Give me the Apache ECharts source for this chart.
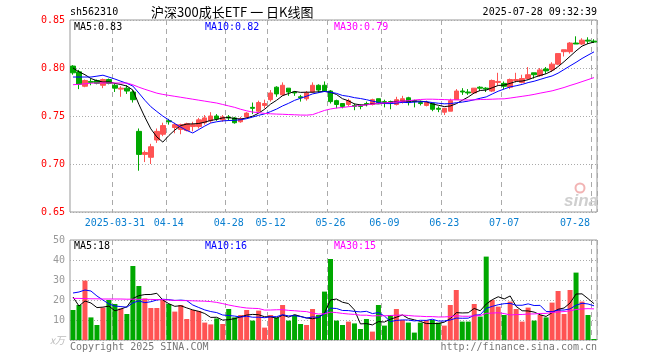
<!DOCTYPE html>
<html><head><meta charset="utf-8">
<script src="https://cdn.jsdelivr.net/npm/echarts@6/dist/echarts.min.js"></script>
<style>html,body{margin:0;padding:0;background:#fff;}#c{width:660px;height:360px;}</style>
</head><body><div id="c"></div>
<script>
const dates = ['2025-03-20','2025-03-21','2025-03-24','2025-03-25','2025-03-26','2025-03-27','2025-03-28','2025-03-31',
'2025-04-01','2025-04-02','2025-04-03','2025-04-07','2025-04-08','2025-04-09','2025-04-10','2025-04-11','2025-04-14','2025-04-15','2025-04-16','2025-04-17','2025-04-18','2025-04-21','2025-04-22','2025-04-23','2025-04-24','2025-04-25','2025-04-28','2025-04-29','2025-04-30',
'2025-05-06','2025-05-07','2025-05-08','2025-05-09','2025-05-12','2025-05-13','2025-05-14','2025-05-15','2025-05-16','2025-05-19','2025-05-20','2025-05-21','2025-05-22','2025-05-23','2025-05-26','2025-05-27','2025-05-28','2025-05-29','2025-05-30',
'2025-06-03','2025-06-04','2025-06-05','2025-06-06','2025-06-09','2025-06-10','2025-06-11','2025-06-12','2025-06-13','2025-06-16','2025-06-17','2025-06-18','2025-06-19','2025-06-20','2025-06-23','2025-06-24','2025-06-25','2025-06-26','2025-06-27','2025-06-30',
'2025-07-01','2025-07-02','2025-07-03','2025-07-04','2025-07-07','2025-07-08','2025-07-09','2025-07-10','2025-07-11','2025-07-14','2025-07-15','2025-07-16','2025-07-17','2025-07-18','2025-07-21','2025-07-22','2025-07-23','2025-07-24','2025-07-25','2025-07-28'];

const opens = [0.802,0.796,0.781,0.786,0.787,0.782,0.788,0.782,0.778,0.779,
0.775,0.734,0.710,0.707,0.725,0.731,0.745,0.738,0.736,0.735,
0.739,0.739,0.743,0.745,0.750,0.746,0.749,0.748,0.744,0.749,
0.759,0.755,0.761,0.767,0.780,0.772,0.779,0.775,0.770,0.768,
0.775,0.782,0.782,0.776,0.766,0.763,0.762,0.761,0.761,0.763,
0.762,0.768,0.765,0.765,0.762,0.765,0.769,0.766,0.764,0.761,
0.763,0.758,0.754,0.755,0.767,0.776,0.775,0.774,0.780,0.779,
0.776,0.785,0.784,0.780,0.787,0.785,0.789,0.795,0.792,0.799,
0.798,0.804,0.817,0.817,0.826,0.825,0.829,0.828];

const closes = [0.795,0.783,0.787,0.785,0.784,0.788,0.784,0.779,0.779,0.776,
0.767,0.710,0.712,0.718,0.734,0.740,0.744,0.741,0.741,0.742,
0.741,0.746,0.748,0.750,0.747,0.749,0.748,0.743,0.747,0.753,
0.758,0.764,0.763,0.774,0.773,0.782,0.775,0.774,0.769,0.774,
0.782,0.777,0.776,0.765,0.762,0.760,0.766,0.760,0.760,0.762,
0.767,0.764,0.764,0.764,0.767,0.768,0.764,0.765,0.763,0.764,
0.757,0.757,0.758,0.766,0.776,0.775,0.774,0.779,0.779,0.778,
0.787,0.786,0.781,0.788,0.788,0.789,0.793,0.793,0.798,0.797,
0.804,0.815,0.819,0.826,0.825,0.829,0.828,0.827];

const highs = [0.803,0.798,0.788,0.789,0.788,0.789,0.789,0.784,0.781,0.782,
0.777,0.737,0.714,0.721,0.737,0.743,0.747,0.743,0.742,0.743,
0.744,0.748,0.751,0.754,0.752,0.751,0.751,0.749,0.749,0.754,
0.764,0.766,0.767,0.777,0.781,0.785,0.779,0.776,0.772,0.776,
0.785,0.783,0.786,0.777,0.767,0.763,0.768,0.763,0.762,0.765,
0.768,0.768,0.767,0.766,0.770,0.771,0.770,0.767,0.766,0.766,
0.764,0.760,0.758,0.768,0.778,0.779,0.778,0.779,0.781,0.780,
0.788,0.795,0.786,0.789,0.795,0.793,0.801,0.795,0.800,0.801,
0.806,0.815,0.819,0.827,0.833,0.831,0.832,0.830];

const lows = [0.793,0.778,0.780,0.782,0.783,0.779,0.783,0.775,0.770,0.773,
0.764,0.693,0.702,0.700,0.722,0.729,0.741,0.732,0.731,0.734,
0.734,0.737,0.741,0.743,0.745,0.744,0.745,0.742,0.743,0.748,
0.752,0.754,0.758,0.765,0.770,0.771,0.771,0.771,0.765,0.766,
0.774,0.774,0.775,0.763,0.758,0.758,0.760,0.756,0.757,0.760,
0.761,0.763,0.759,0.757,0.761,0.763,0.761,0.759,0.761,0.760,
0.755,0.754,0.751,0.755,0.767,0.772,0.772,0.773,0.776,0.775,
0.775,0.782,0.778,0.778,0.785,0.784,0.788,0.789,0.791,0.794,
0.796,0.803,0.812,0.815,0.825,0.824,0.825,0.826];

const ma5 = [0.800,0.796,0.793,0.789,0.7868,0.7854,0.7856,0.7840,0.7828,0.7812,
0.7770,0.7622,0.7488,0.7366,0.7282,0.7228,0.7296,0.7354,0.7400,0.7416,
0.7418,0.7422,0.7436,0.7454,0.7464,0.7480,0.7484,0.7474,0.7468,0.7480,
0.7498,0.7530,0.7570,0.7624,0.7664,0.7712,0.7734,0.7756,0.7746,0.7748,
0.7748,0.7752,0.7756,0.7748,0.7724,0.7680,0.7658,0.7626,0.7616,0.7616,
0.7630,0.7626,0.7634,0.7642,0.7652,0.7654,0.7654,0.7656,0.7654,0.7648,
0.7626,0.7612,0.7598,0.7604,0.7628,0.7664,0.7698,0.7740,0.7766,0.7770,
0.7794,0.7818,0.7822,0.7840,0.7860,0.7864,0.7878,0.7902,0.7922,0.7940,
0.7970,0.8014,0.8066,0.8122,0.8178,0.8228,0.8254,0.8270];

const ma10 = [0.7906,0.7906,0.7906,0.7906,0.7915,0.7925,0.7905,0.7885,0.7862,0.7840,
0.7812,0.7739,0.7664,0.7597,0.7547,0.7499,0.7459,0.7421,0.7383,0.7349,
0.7323,0.7359,0.7395,0.7427,0.7440,0.7449,0.7453,0.7455,0.7461,0.7472,
0.7489,0.7507,0.7522,0.7546,0.7572,0.7605,0.7632,0.7663,0.7685,0.7706,
0.7730,0.7743,0.7756,0.7747,0.7736,0.7714,0.7705,0.7691,0.7682,0.7670,
0.7655,0.7642,0.7630,0.7629,0.7634,0.7642,0.7640,0.7645,0.7648,0.7650,
0.7640,0.7633,0.7627,0.7629,0.7638,0.7645,0.7655,0.7669,0.7685,0.7699,
0.7729,0.7758,0.7781,0.7803,0.7815,0.7829,0.7848,0.7862,0.7881,0.7900,
0.7917,0.7946,0.7984,0.8022,0.8059,0.8099,0.8134,0.8168];

const ma30 = [0.7826,0.7830,0.7835,0.7842,0.7844,0.7844,0.7844,0.7844,0.7844,0.7844,
0.7825,0.7800,0.7778,0.7758,0.7738,0.7725,0.7715,0.7705,0.7695,0.7685,
0.7675,0.7665,0.7655,0.7645,0.7635,0.7620,0.7605,0.7590,0.7570,0.7554,
0.7541,0.7535,0.7527,0.7523,0.7520,0.7518,0.7515,0.7513,0.7510,0.7509,
0.7514,0.7536,0.7558,0.7573,0.7583,0.7589,0.7597,0.7603,0.7609,0.7616,
0.7625,0.7631,0.7636,0.7641,0.7647,0.7654,0.7659,0.7666,0.7672,0.7675,
0.7675,0.7673,0.7671,0.7668,0.7669,0.7667,0.7667,0.7668,0.7672,0.7673,
0.7675,0.7678,0.7679,0.7687,0.7696,0.7705,0.7714,0.7725,0.7738,0.7750,
0.7762,0.7779,0.7797,0.7818,0.7837,0.7858,0.7879,0.7900];

const vols = [15,17.5,29.7,11.3,7.5,16.2,20,18,15.8,13,
37,27,20.8,16,16,20,18,14.2,17.5,10.5,
15,14.5,8.7,7.8,10.8,8,15.5,11.3,12.5,15,
9.7,14.7,6.2,12.5,11.3,17.5,9.7,12.5,8,7.5,
15.5,12.5,24.2,40.5,9.7,7.5,9.2,8.3,5.5,10.5,
4.2,17.5,7.2,12.5,15.5,10,8.7,3.7,8.7,10,
10,8.7,7.2,17.5,25,9.2,9.2,18,11.7,41.7,
20,16.7,12.5,19.2,15.5,9.2,16.2,9.7,12.5,11.3,
18.7,24.5,13,25,33.7,19.2,12.5,0.5];

const vma5 = [21.5,17,19.5,18.5,16.2,16.44,16.94,14.6,15.5,16.6,
20.76,22.16,22.72,22.76,23.36,19.96,18.16,16.84,17.14,16.04,
15.04,14.34,13.24,11.3,11.36,9.96,10.16,10.68,11.62,12.46,
12.8,12.64,11.62,11.62,10.88,12.44,11.44,12.7,11.8,11.04,
10.64,11.2,13.54,20.04,20.48,18.88,18.22,15.04,8.04,8.2,
7.54,9.2,8.98,10.38,11.38,12.54,10.78,10.08,9.32,8.22,
8.22,8.22,8.92,10.68,13.68,13.52,13.62,15.78,14.62,17.96,
20.12,21.62,20.52,22.02,16.78,14.62,14.52,13.96,12.62,11.78,
13.68,15.34,16.0,18.5,22.98,23.08,20.68,18.18];

const vma10 = [23.5,24,25,24.5,22,20,18,17,16.7,16.4,
18.6,19.55,18.66,19.13,19.98,20.36,20.16,19.78,19.95,19.7,
17.5,16.25,15.04,14.22,13.7,12.5,12.25,11.96,11.46,11.91,
11.38,11.4,11.15,11.62,11.67,12.62,12.04,12.16,11.71,10.96,
11.54,11.32,13.12,15.92,15.76,14.76,14.71,14.29,14.04,14.34,
13.21,13.71,12.01,9.21,9.79,10.04,9.99,9.53,9.85,9.8,
10.38,9.5,9.5,10.0,10.95,10.87,10.92,12.35,12.65,15.82,
16.82,17.62,18.15,18.32,17.37,17.37,18.07,17.24,17.32,14.28,
14.15,14.93,14.98,15.56,17.38,18.38,18.01,17.09];

const vma30 = [20.8,20.8,20.7,20.6,20.6,20.5,20.5,20.5,20.5,20.4,
20.4,20.3,20.3,20.3,20.2,20.2,20.0,19.8,19.7,19.7,
19.6,19.5,19.4,19.2,18.8,18.2,17.5,16.9,16.4,16.0,
15.83,15.73,14.95,14.99,15.12,15.16,14.82,14.63,14.37,14.19,
13.47,12.99,13.1,13.92,13.71,13.29,13.0,12.8,12.4,12.4,
12.04,12.14,12.09,12.25,12.41,12.47,12.25,11.99,11.87,11.7,
11.71,11.51,11.54,11.71,12.17,11.89,11.87,12.06,12.18,13.32,
13.47,13.61,13.22,12.51,12.7,12.76,12.99,13.04,13.27,13.3,
13.78,14.02,14.21,14.63,15.23,15.54,15.67,15.56];

const tickDates = ['2025-03-31','2025-04-14','2025-04-28','2025-05-12','2025-05-26','2025-06-09','2025-06-23','2025-07-07','2025-07-28'];
const tickLabels = ['2025-03-31','04-14','04-28','05-12','05-26','06-09','06-23','07-07','07-28'];
const priceTicks = [0.65, 0.70, 0.75, 0.80, 0.85];
const volTicks = [0, 10, 20, 30, 40, 50];

const UP = '#ff5353', DOWN = '#00a800';
const mono = "'DejaVu Sans Mono', monospace";

const candleData = dates.map((d, i) => [opens[i], closes[i], lows[i], highs[i]]);
const volData = vols.map((v, i) => ({ value: v, itemStyle: { color: closes[i] >= opens[i] ? UP : DOWN } }));

const isTick = (idx) => tickDates.indexOf(dates[idx]) >= 0;
const gridLineV = { show: true, interval: (idx) => isTick(idx), lineStyle: { color: '#aaa', type: [5, 4], width: 1 } };
const gridLineH = { show: true, lineStyle: { color: '#aaa', type: [1, 2], width: 1 } };

function txt(text, x, y, color, align, font) {
  return { type: 'text', x: x, y: y, z: 100, silent: true,
    style: { text: text, fill: color, font: font || ('10px ' + mono), textAlign: align || 'left', textVerticalAlign: 'middle' } };
}

const chart = echarts.init(document.getElementById('c'), null, { renderer: 'canvas' });
chart.setOption({
  animation: false,
  backgroundColor: '#fff',
  grid: [
    { left: 70, top: 20, width: 527, height: 192, show: true, borderColor: '#999', borderWidth: 1 },
    { left: 70, top: 240, width: 527, height: 100, show: true, borderColor: '#999', borderWidth: 1 }
  ],
  xAxis: [
    { type: 'category', gridIndex: 0, data: dates, boundaryGap: true,
      axisLine: { show: false }, axisTick: { show: false },
      axisLabel: { interval: (idx) => isTick(idx), margin: 6, color: '#0a7fd0', fontFamily: mono, fontSize: 10,
        formatter: (v) => {
          const j = tickDates.indexOf(v);
          if (j === tickDates.length - 1) return '{last|' + tickLabels[j] + '}';
          return j >= 0 ? tickLabels[j] : '';
        },
        rich: { last: { color: '#0a7fd0', fontFamily: mono, fontSize: 10, padding: [0, 38, 0, 0] } } },
      splitLine: gridLineV },
    { type: 'category', gridIndex: 1, data: dates, boundaryGap: true,
      axisLine: { show: false }, axisTick: { show: false }, axisLabel: { show: false },
      splitLine: gridLineV }
  ],
  yAxis: [
    { type: 'value', gridIndex: 0, min: priceTicks[0], max: priceTicks[priceTicks.length - 1], interval: 0.05,
      axisLine: { show: false }, axisTick: { show: false },
      axisLabel: { color: '#f00', fontFamily: mono, fontSize: 10, margin: 5, formatter: (v) => v.toFixed(2) },
      splitLine: gridLineH },
    { type: 'value', gridIndex: 1, min: volTicks[0], max: volTicks[volTicks.length - 1], interval: 10,
      axisLine: { show: false }, axisTick: { show: false },
      axisLabel: { color: '#999', fontFamily: mono, fontSize: 10, margin: 5,
        formatter: (v) => v === 0 ? '{u|x万}' : String(v),
        rich: { u: { color: '#bbb', fontSize: 10, fontStyle: 'italic', fontFamily: "'Noto Sans CJK SC', sans-serif" } } },
      splitLine: gridLineH }
  ],
  series: [
    { type: 'candlestick', xAxisIndex: 0, yAxisIndex: 0, data: candleData, barWidth: 5,
      itemStyle: { color: UP, color0: DOWN, borderColor: UP, borderColor0: DOWN, borderWidth: 1 } },
    { type: 'line', xAxisIndex: 0, yAxisIndex: 0, data: ma5, showSymbol: false, lineStyle: { color: '#000', width: 1 }, z: 5 },
    { type: 'line', xAxisIndex: 0, yAxisIndex: 0, data: ma10, showSymbol: false, lineStyle: { color: '#0000ff', width: 1 }, z: 5 },
    { type: 'line', xAxisIndex: 0, yAxisIndex: 0, data: ma30, showSymbol: false, lineStyle: { color: '#ff00ff', width: 1 }, z: 5 },
    { type: 'bar', xAxisIndex: 1, yAxisIndex: 1, data: volData, barWidth: 5 },
    { type: 'line', xAxisIndex: 1, yAxisIndex: 1, data: vma5, showSymbol: false, lineStyle: { color: '#000', width: 1 }, z: 5 },
    { type: 'line', xAxisIndex: 1, yAxisIndex: 1, data: vma10, showSymbol: false, lineStyle: { color: '#0000ff', width: 1 }, z: 5 },
    { type: 'line', xAxisIndex: 1, yAxisIndex: 1, data: vma30, showSymbol: false, lineStyle: { color: '#ff00ff', width: 1 }, z: 5 }
  ],
  graphic: [
    txt('sh562310', 70, 12, '#000'),
    txt('沪深300成长ETF 一 日K线图', 151, 12, '#000', 'left', "13px 'Noto Sans CJK SC', sans-serif"),
    txt('2025-07-28 09:32:39', 597, 12, '#000', 'right'),
    txt('MA5:0.83', 74, 27, '#000'),
    txt('MA10:0.82', 205, 27, '#0000ff'),
    txt('MA30:0.79', 334, 27, '#ff00ff'),
    txt('MA5:18', 74, 246, '#000'),
    txt('MA10:16', 205, 246, '#0000ff'),
    txt('MA30:15', 334, 246, '#ff00ff'),
    txt('Copyright 2025 SINA.COM', 70, 347, '#777'),
    txt('http://finance.sina.com.cn', 597, 347, '#777', 'right'),
    { type: 'circle', z: 50, silent: true, shape: { cx: 580, cy: 188, r: 4.5 }, style: { fill: 'none', stroke: '#f2b4b4', lineWidth: 2 } },
    txt('sina', 581, 201, '#cfcfcf', 'center', "italic bold 17px 'Liberation Sans', Arial, sans-serif")
  ]
});
</script>
</body></html>
